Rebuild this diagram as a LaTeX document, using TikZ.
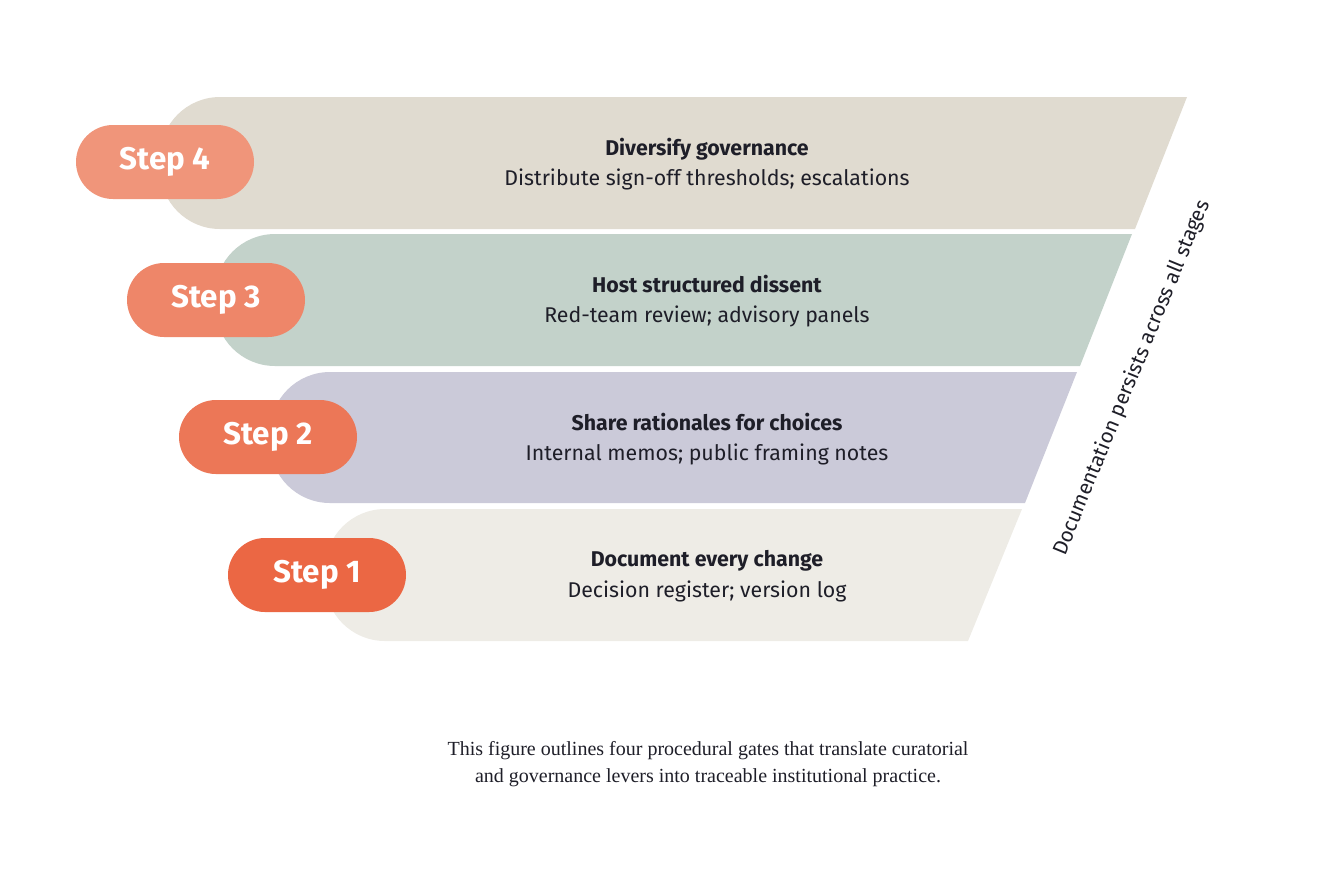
\documentclass[tikz,border=0pt]{standalone}
\usepackage{fontspec}
\setmainfont{Fira Sans}
\newfontfamily\capfont{Liberation Serif}
\definecolor{b4}{HTML}{E0DBD0}
\definecolor{b3}{HTML}{C3D2CA}
\definecolor{b2}{HTML}{CBCAD9}
\definecolor{b1}{HTML}{EEECE6}
\definecolor{s4}{HTML}{F0957A}
\definecolor{s3}{HTML}{EE8669}
\definecolor{s2}{HTML}{EC7757}
\definecolor{s1}{HTML}{EB6744}
\definecolor{txt}{HTML}{1E1E28}
\begin{document}
\begin{tikzpicture}[x=0.75pt,y=-0.75pt,
  steppill/.style={rounded corners=27.75pt,minimum width=133.5pt,minimum height=55.5pt,text=white,font=\fontsize{23.5}{26}\selectfont\bfseries,inner sep=0pt},
  lbl/.style={align=center,text=txt,font=\fontsize{16}{23}\selectfont}]
\useasboundingbox (0,0) rectangle (1338,869);
\newcommand{\band}[6]{% left, top, bottom, topright, bottomright, color
  \fill[#6] (#4,#2) -- (#5,#3) -- (#1+66,#3) [rounded corners=45pt] -- (#1,#3) -- (#1,#2) [sharp corners] -- (#1+66,#2) -- cycle;}
\band{160}{97}{229}{1187}{1135}{b4}
\band{215}{234}{366}{1132}{1080}{b3}
\band{270}{372}{503}{1077}{1025}{b2}
\band{325}{509}{641}{1022}{968}{b1}
\node[steppill,fill=s4] (st4) at (165,162) {Step 4};
\node[steppill,fill=s3] (st3) at (216,300) {Step 3};
\node[steppill,fill=s2] (st2) at (268,437) {Step 2};
\node[steppill,fill=s1] (st1) at (317,575) {Step 1};
\node[lbl] (l4) at (707,164) {\textbf{Diversify governance}\\Distribute sign-off thresholds; escalations};
\node[lbl] (l3) at (707,301) {\textbf{Host structured dissent}\\Red-team review; advisory panels};
\node[lbl] (l2) at (707,439) {\textbf{Share rationales for choices}\\Internal memos; public framing notes};
\node[lbl] (l1) at (707,576) {\textbf{Document every change}\\Decision register; version log};
\node[text=txt,rotate=67.7,font=\fontsize{15.5}{18}\selectfont] (doc) at (1132,378) {Documentation persists across all stages};
\node[align=center,text=txt,font=\capfont\fontsize{15}{20.5}\selectfont] (cap) at (708,764) {This figure outlines four procedural gates that translate curatorial\\and governance levers into traceable institutional practice.};
\end{tikzpicture}
\end{document}
